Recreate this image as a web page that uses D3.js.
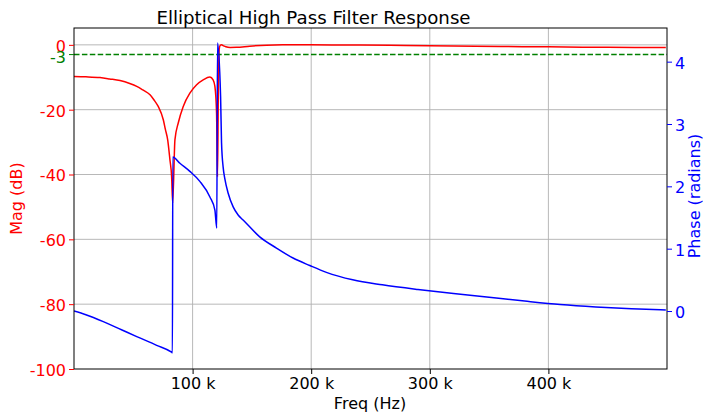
<!DOCTYPE html>
<html><head><meta charset="utf-8">
<script src="https://cdn.jsdelivr.net/npm/d3@7"></script>
<style>body{margin:0;background:#fff}svg{display:block}text{font-family:"DejaVu Sans",sans-serif}</style>
</head><body><svg id="c" width="703" height="412"></svg>
<script>
// Data (frequency in kHz)
const magFreq = [0, 10, 21.9, 30, 38.8, 47, 52.9, 58, 64.1, 67.5, 71.0, 75.3, 77, 79.0, 80.9, 82.3, 83.2, 85.1, 87.9, 92.1, 97.7, 103.4, 108.9, 114.6, 117.3, 118.8, 120.2, 121.0, 121.7, 122.4, 123.2, 124.4, 126.0, 128.0, 131.6, 137.0, 148.2, 162.3, 176, 200, 241, 280, 320, 360, 400, 450, 499];
const magDb   = [-9.74, -9.85, -10.1, -10.5, -11.0, -11.9, -12.8, -13.9, -15.4, -17.0, -19.0, -23.1, -26, -29.3, -35.5, -40.6, -48.8, -29.3, -24.1, -19.0, -14.9, -12.3, -10.8, -9.9, -10.8, -12.8, -21, -40.7, -15, -1.5, -0.2, 0.0, -0.3, -0.6, -0.78, -0.75, -0.4, -0.1, 0.0, 0.0, -0.05, -0.2, -0.35, -0.5, -0.62, -0.75, -0.82];
const phaseFreq = [0, 10, 24.7, 40, 52.9, 69.7, 82.3, 83.0, 83.3, 89.3, 97.7, 106.1, 114.6, 118.8, 120.4, 121.0, 123.6, 124.4, 125.8, 127.2, 130.0, 134.2, 138.4, 142.6, 156.6, 170.7, 184.7, 198.8, 212.8, 235, 260, 290, 320, 350, 380, 410, 440, 470, 499];
const phaseRad  = [0.0, -0.06, -0.17, -0.3, -0.41, -0.55, -0.66, -0.67, 2.47, 2.37, 2.24, 2.08, 1.83, 1.62, 1.33, 4.30, 3.44, 2.7, 2.3, 2.12, 1.89, 1.67, 1.54, 1.46, 1.19, 1.01, 0.85, 0.73, 0.62, 0.50, 0.42, 0.345, 0.28, 0.22, 0.16, 0.105, 0.065, 0.035, 0.016];
const xTicks = [100, 200, 300, 400];
const magTicks = [-100, -80, -60, -40, -20, 0];
const phaseTicks = [0, 1, 2, 3, 4];
const cutoffDb = -3;

const L=74, R=667, T=28, B=369;
const svg = d3.select("#c");
const x = d3.scaleLinear().domain([0, 500]).range([L, R]);
const yM = d3.scaleLinear().domain([-100, 5.2]).range([B, T]);
const yP = d3.scaleLinear().domain([-0.93, 4.54]).range([B, T]);

svg.append("defs").append("clipPath").attr("id","clip").append("rect")
  .attr("x",L).attr("y",T).attr("width",R-L).attr("height",B-T);

// grid
const g = svg.append("g");
g.selectAll("line.vx").data(xTicks).join("line")
  .attr("x1",d=>x(d)).attr("x2",d=>x(d)).attr("y1",T).attr("y2",B)
  .attr("stroke","#b0b0b0").attr("stroke-width",0.9);
g.selectAll("line.hy").data(magTicks.filter(d=>d>-100)).join("line")
  .attr("y1",d=>yM(d)).attr("y2",d=>yM(d)).attr("x1",L).attr("x2",R)
  .attr("stroke","#b0b0b0").attr("stroke-width",0.9);

const plot = svg.append("g").attr("clip-path","url(#clip)");
const lineM = d3.line().x((d,i)=>x(magFreq[i])).y(d=>yM(d)).curve(d3.curveMonotoneX);
plot.append("path").datum(magDb).attr("d",lineM).attr("fill","none")
  .attr("stroke","#ff0000").attr("stroke-width",1.5).attr("stroke-linejoin","round");
plot.append("line").attr("x1",L).attr("x2",R).attr("y1",yM(cutoffDb)).attr("y2",yM(cutoffDb))
  .attr("stroke","#008000").attr("stroke-width",1.5).attr("stroke-dasharray","5.5,2.4");
const lineP = d3.line().x((d,i)=>x(phaseFreq[i])).y(d=>yP(d)).curve(d3.curveMonotoneX);
plot.append("path").datum(phaseRad).attr("d",lineP).attr("fill","none")
  .attr("stroke","#0000ff").attr("stroke-width",1.5).attr("stroke-linejoin","round");

// spines
svg.append("rect").attr("x",L).attr("y",T).attr("width",R-L).attr("height",B-T)
  .attr("fill","none").attr("stroke","#000").attr("stroke-width",1);

// axes
function style(sel, color){
  sel.select(".domain").remove();
  sel.selectAll(".tick line").attr("stroke",color);
  sel.selectAll(".tick text").attr("fill",color).style("font-size","16px").style("font-family","DejaVu Sans");
}
const ax = svg.append("g").attr("transform",`translate(0,${B})`)
  .call(d3.axisBottom(x).tickValues(xTicks).tickFormat(d=>d+" k").tickSize(5).tickPadding(4));
style(ax,"#000");
const ayl = svg.append("g").attr("transform",`translate(${L},0)`)
  .call(d3.axisLeft(yM).tickValues(magTicks).tickFormat(d=>d).tickSize(5).tickPadding(3));
style(ayl,"#ff0000");
ayl.selectAll(".tick text").attr("dy","0.4em");
// -3 cutoff tick
const c3 = svg.append("g").attr("transform",`translate(${L},${yM(cutoffDb)})`);
c3.append("line").attr("x1",-5).attr("x2",0).attr("stroke","#008000");
c3.append("text").attr("x",-8).attr("dy","0.5em").attr("text-anchor","end")
  .attr("fill","#008000").style("font-size","16px").text(cutoffDb);
const ayr = svg.append("g").attr("transform",`translate(${R},0)`)
  .call(d3.axisRight(yP).tickValues(phaseTicks).tickFormat(d3.format("d")).tickSize(5).tickPadding(3));
style(ayr,"#0000ff");
ayr.selectAll(".tick text").attr("dy","0.4em");

// labels
svg.append("text").attr("x",313.5).attr("y",23.5).attr("text-anchor","middle")
  .style("font-size","18.2px").attr("fill","#000").text("Elliptical High Pass Filter Response");
svg.append("text").attr("x",370).attr("y",409).attr("text-anchor","middle")
  .style("font-size","16px").attr("fill","#000").text("Freq (Hz)");
svg.append("text").attr("transform",`translate(22,198.5) rotate(-90)`).attr("text-anchor","middle")
  .style("font-size","16px").attr("fill","#ff0000").text("Mag (dB)");
svg.append("text").attr("transform",`translate(700,196) rotate(-90)`).attr("text-anchor","middle")
  .style("font-size","16px").attr("fill","#0000ff").text("Phase (radians)");
</script></body></html>
